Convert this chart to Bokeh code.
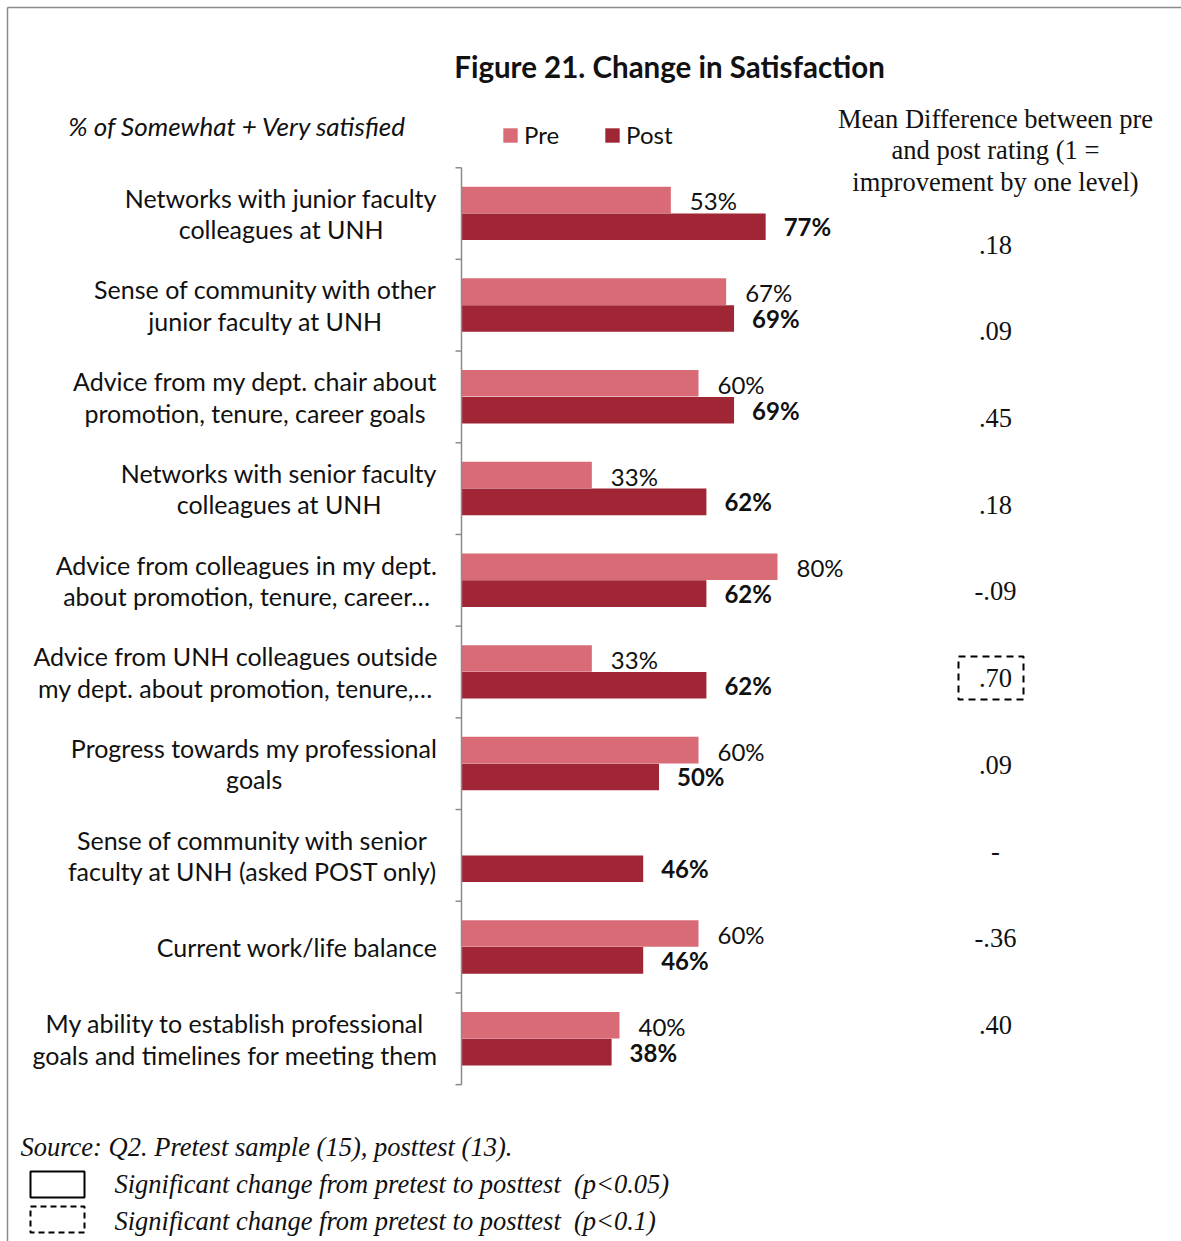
from bokeh.plotting import figure
from bokeh.models import Range1d, Legend, LegendItem, ColumnDataSource
from bokeh.core.properties import value
from bokeh.embed import file_html
from bokeh.resources import INLINE

# ---------------- data ----------------
categories = [
    "Networks with junior faculty\ncolleagues at UNH",
    "Sense of community with other\njunior faculty at UNH",
    "Advice from my dept. chair about\npromotion, tenure, career goals",
    "Networks with senior faculty\ncolleagues at UNH",
    "Advice from colleagues in my dept.\nabout promotion, tenure, career\u2026",
    "Advice from UNH colleagues outside\nmy dept. about promotion, tenure,\u2026",
    "Progress towards my professional\ngoals",
    "Sense of community with senior\nfaculty at UNH (asked POST only)",
    "Current work/life balance",
    "My ability to establish professional\ngoals and timelines for meeting them",
]
pre = [53, 67, 60, 33, 80, 33, 60, None, 60, 40]
post = [77, 69, 69, 62, 62, 62, 50, 46, 46, 38]
mean_diff = [".18", ".09", ".45", ".18", "-.09", ".70", ".09", "-", "-.36", ".40"]
significance = [None, None, None, None, None, "p<0.1", None, None, None, None]

title_text = "Figure 21. Change in Satisfaction"
subtitle_text = "% of Somewhat + Very satisfied"
md_header = "Mean Difference between pre\nand post rating (1 =\nimprovement by one level)"
source_text = "Source: Q2. Pretest sample (15), posttest (13)."
sig05_text = "Significant change from pretest to posttest \u00a0(p<0.05)"
sig10_text = "Significant change from pretest to posttest \u00a0(p<0.1)"

# ---------------- layout helpers ----------------
W, H = 1181, 1241
X0, PX = 461.0, 3.95      # pixel of 0 %, pixels per percent
Y0, GY = 213.0, 91.7      # pixel of first category centre, pixels per category


def X(px):
    return (px - X0) / PX


def Y(py):
    return (py - Y0) / GY


PRE_C = "#D96B77"
POST_C = "#A02535"
SANS = value("Lato")
SERIF = value("Liberation Serif")
INK = "#111111"

p = figure(width=W, height=H, x_range=Range1d(X(0), X(W)), y_range=Range1d(Y(H), Y(0)),
           output_backend="svg", toolbar_location=None, min_border=0,
           x_axis_location=None, y_axis_location=None, outline_line_color=None,
           background_fill_color="white", border_fill_color="white")
for g in p.grid:
    g.visible = False

# outer frame (top & left edges)
p.segment(x0=[X(7), X(7)], y0=[Y(7), Y(7)], x1=[X(W), X(7)], y1=[Y(7), Y(H)],
          line_color="#8c8c8c", line_width=1.5)

n = len(categories)
idx = list(range(n))
pre_i = [i for i in idx if pre[i] is not None]

src_pre = ColumnDataSource(dict(y=[i - 0.148 for i in pre_i], v=[pre[i] for i in pre_i],
                                lab=[f"{pre[i]}%" for i in pre_i]))
src_post = ColumnDataSource(dict(y=[i + 0.145 for i in idx], v=post,
                                 lab=[f"{v}%" for v in post]))

r_pre = p.hbar(y="y", left=0, right="v", height=0.29, source=src_pre,
               fill_color=PRE_C, line_color=None)
r_post = p.hbar(y="y", left=0, right="v", height=0.29, source=src_post,
                fill_color=POST_C, line_color=None)

p.text(x="v", y="y", text="lab", source=src_pre, x_offset=19, y_offset=1,
       text_align="left", text_baseline="middle", text_font=SANS,
       text_font_size="24px", text_color=INK)
p.text(x="v", y="y", text="lab", source=src_post, x_offset=18, y_offset=0,
       text_align="left", text_baseline="middle", text_font=SANS,
       text_font_size="24px", text_font_style="bold", text_color=INK)

# category axis
bounds = [i - 0.5 for i in range(n + 1)]
p.segment(x0=[0], y0=[bounds[0]], x1=[0], y1=[bounds[-1]], line_color="#8c8c8c", line_width=1.5)
p.segment(x0=[0] * len(bounds), y0=bounds, x1=[X(455)] * len(bounds), y1=bounds,
          line_color="#8c8c8c", line_width=1.5)

p.text(x=[X(437)] * n, y=idx, text=categories, anchor="center_right", text_align="center",
       text_baseline="middle", line_height=1.05, text_font=SANS,
       text_font_size="25px", text_color=INK)

# titles
p.text(x=[X(669)], y=[Y(66)], text=[title_text], text_align="center", text_baseline="middle",
       text_font=SANS, text_font_size="29.5px", text_font_style="bold", text_color=INK)
p.text(x=[X(237)], y=[Y(125)], text=[subtitle_text], text_align="center", text_baseline="middle",
       text_font=SANS, text_font_size="26px", text_font_style="italic", text_color=INK)

# legend
legend = Legend(items=[LegendItem(label="Pre", renderers=[r_pre]),
                       LegendItem(label="Post", renderers=[r_post])],
                orientation="horizontal", location=(501, 1092), padding=0, margin=0,
                spacing=44, label_standoff=5, glyph_width=18, glyph_height=18,
                label_text_font="Lato", label_text_font_size="24px",
                label_text_color=INK, border_line_color=None,
                background_fill_alpha=0)
p.add_layout(legend)

# mean difference column
p.text(x=[X(995)], y=[Y(150)], text=[md_header], anchor="center", text_align="center",
       text_baseline="middle", line_height=1.04, text_font=SERIF, text_font_size="26.5px",
       text_color=INK)
md_y = [Y(244 + 86.7 * i) for i in idx]
p.text(x=[X(995)] * n, y=md_y, text=mean_diff, text_align="center", text_baseline="middle",
       text_font=SERIF, text_font_size="26.5px", text_color=INK)
sig_i = [i for i in idx if significance[i] is not None]
p.rect(x=[X(990.5)] * len(sig_i), y=[md_y[i] for i in sig_i], width=65, height=43,
       width_units="screen", height_units="screen", fill_color=None, line_color="black",
       line_dash="7 5", line_width=2)

# footer
p.text(x=[X(20)], y=[Y(1146)], text=[source_text], text_align="left", text_baseline="middle",
       text_font=SERIF, text_font_size="26.5px", text_font_style="italic", text_color=INK)
p.rect(x=[X(57)], y=[Y(1184)], width=54, height=26, width_units="screen", height_units="screen",
       fill_color=None, line_color="black", line_width=2)
p.rect(x=[X(57)], y=[Y(1219)], width=54, height=26, width_units="screen", height_units="screen",
       fill_color=None, line_color="black", line_width=2, line_dash="6 4")
p.text(x=[X(114), X(114)], y=[Y(1183), Y(1220)], text=[sig05_text, sig10_text],
       text_align="left", text_baseline="middle", text_font=SERIF, text_font_size="26.5px",
       text_font_style="italic", text_color=INK)

open("out.html", "w").write(file_html(p, INLINE))
